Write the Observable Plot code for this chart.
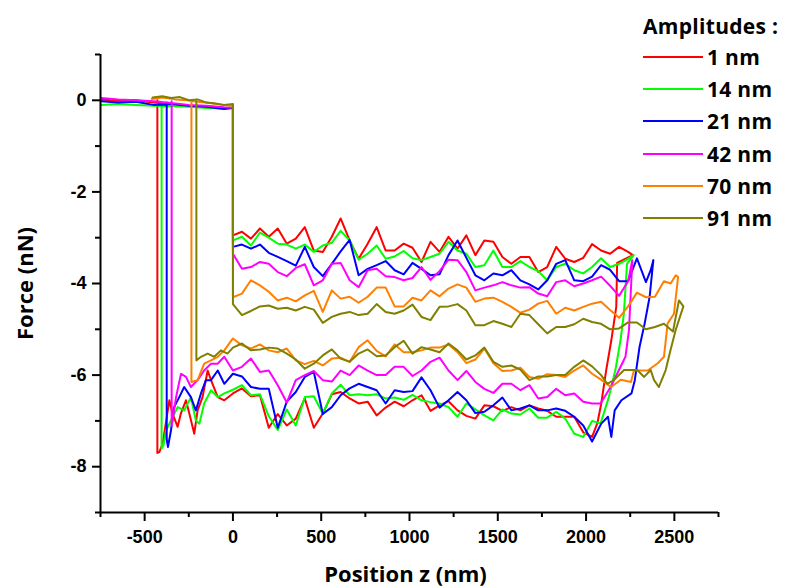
<!DOCTYPE html>
<html><head><meta charset="utf-8">
<script src="https://cdn.jsdelivr.net/npm/d3@7"></script>
<script src="https://cdn.jsdelivr.net/npm/@observablehq/plot@0.6"></script>
<style>
body{margin:0;background:#fff;}
#wrap{position:relative;width:792px;height:588px;overflow:hidden;}
#legend{position:absolute;left:643px;top:12px;font-family:"Open Sans",sans-serif;font-weight:700;color:#000;}
#legend .title{font-size:21px;line-height:28px;white-space:nowrap;margin-bottom:1px;letter-spacing:0.3px;}
#legend .row{display:flex;align-items:center;height:32.2px;font-size:21px;white-space:nowrap;letter-spacing:0.3px;}
#legend svg{margin-right:4px;}
</style></head><body><div id="wrap"></div>
<script>
// ---- data (Position z in nm, Force in nN) ----
const amplitudes = ["1 nm","14 nm","21 nm","42 nm","70 nm","91 nm"];
const colors = ["#ff0000","#00ff00","#0000ff","#ff00ff","#ff8000","#808000"];
const xTicks = [-500,0,500,1000,1500,2000,2500];
const xMinor = [-750,-250,250,750,1250,1750,2250,2750];
const yTicks = [0,-2,-4,-6,-8];
const yMinor = [1,-1,-3,-5,-7,-9];

// sampling positions of the two noisy bands (nm)
const zGrid = [0,51,102,153,203,254,305,356,407,458,509,560,610,661,712,763,814,865,916,967,1017,1068,1119,1170,1221,1272,1322,1373,1424,1475,1526,1577,1628,1679,1729,1780,1831,1882,1933,1984,2034,2085,2136,2187,2238,2288,2339,2390,2441,2492];

// 1 nm
const redTop = [[-745,0.02],[-650,-0.01],[-550,0.0],[-450,-0.05],[-350,-0.08],[-250,-0.12],[-150,-0.13],[-50,-0.17],[0,-0.17]];
const redUpper = [-2.95,-2.87,-3.02,-2.80,-2.98,-2.80,-3.13,-3.02,-2.77,-3.28,-3.31,-2.98,-2.58,-3.06,-3.46,-3.13,-2.77,-3.28,-3.28,-3.13,-3.22,-3.53,-3.09,-3.31,-2.98,-3.24,-2.95,-3.38,-3.06,-3.09,-3.42,-3.57,-3.42,-3.42,-3.75,-3.64,-3.20,-3.46,-3.53,-3.44,-3.14,-3.28,-3.35,-3.20,-3.31];
const redEnd = [[2265,-3.38],[2176,-3.55],[2171,-4.51],[2143,-5.24],[2114,-5.89],[2086,-6.62],[2064,-7.05]];
const redLower = [-6.40,-6.29,-6.46,-6.44,-7.15,-6.85,-7.10,-6.95,-6.51,-7.15,-6.84,-6.42,-6.37,-6.51,-6.62,-6.58,-6.88,-6.71,-6.58,-6.68,-6.55,-6.44,-6.78,-6.66,-6.57,-6.77,-6.89,-6.95,-6.66,-6.68,-6.78,-6.70,-6.77,-6.66,-6.73,-6.78,-6.91,-6.91,-6.91,-7.25,-7.35];
const redLeft = [[-49,-6.55],[-86,-6.48],[-124,-6.11],[-143,-5.90],[-172,-6.48],[-200,-6.77],[-219,-7.28],[-247,-6.84],[-266,-6.55],[-295,-6.84],[-313,-7.13],[-342,-6.84],[-360,-6.55],[-398,-7.50],[-417,-7.68],[-428,-7.70],[-428,0.0]];

// 14 nm
const greenTop = [[-745,-0.10],[-650,-0.08],[-550,-0.10],[-450,-0.12],[-350,-0.13],[-250,-0.14],[-150,-0.17],[-50,-0.18],[0,-0.15]];
const greenUpper = [-3.06,-2.98,-3.17,-2.89,-3.00,-3.13,-3.15,-3.24,-3.15,-3.31,-3.17,-3.11,-2.85,-3.06,-3.48,-3.35,-3.17,-3.46,-3.41,-3.29,-3.45,-3.49,-3.42,-3.35,-3.09,-3.28,-3.35,-3.64,-3.60,-3.28,-3.64,-3.64,-3.51,-3.64,-3.73,-3.93,-3.64,-3.57,-3.71,-3.78,-3.64,-3.45,-3.64,-3.57,-3.46];
const greenEnd = [[2270,-3.38],[2232,-3.57],[2214,-4.66],[2195,-5.24],[2166,-5.89],[2129,-6.48],[2082,-7.06]];
const greenLower = [-6.32,-6.22,-6.44,-6.42,-6.90,-7.20,-6.75,-7.10,-6.48,-6.46,-6.84,-6.40,-6.21,-6.44,-6.42,-6.44,-6.42,-6.51,-6.49,-6.54,-6.43,-6.55,-6.59,-6.62,-6.70,-6.91,-6.62,-6.75,-6.88,-6.99,-6.75,-6.84,-6.86,-6.73,-6.93,-6.93,-6.80,-6.95,-7.28,-7.35,-7.00];
const greenLeft = [[-49,-6.40],[-86,-6.48],[-124,-6.33],[-163,-6.62],[-190,-7.06],[-210,-6.99],[-238,-6.48],[-276,-6.77],[-313,-6.70],[-351,-6.99],[-379,-7.21],[-393,-7.53],[-404,-7.60],[-404,-0.10]];

// 21 nm
const blueTop = [[-745,-0.02],[-650,-0.05],[-550,-0.03],[-450,-0.10],[-350,-0.08],[-250,-0.12],[-150,-0.14],[-50,-0.19],[0,-0.17]];
const blueUpper = [-3.20,-3.15,-3.24,-3.15,-3.33,-3.42,-3.51,-3.61,-3.20,-3.64,-3.84,-3.57,-3.30,-3.05,-3.82,-3.68,-3.60,-3.51,-3.71,-3.80,-3.55,-3.68,-3.82,-3.80,-3.38,-3.06,-3.44,-3.82,-3.93,-3.78,-3.82,-3.71,-3.93,-4.02,-4.13,-3.93,-3.57,-3.49,-3.93,-3.95,-3.85,-3.60,-3.70,-3.95,-3.95,-3.45,-3.97];
const blueEnd = [[2366,-3.71],[2381,-3.49],[2360,-4.29],[2332,-4.87],[2303,-5.38],[2276,-6.11],[2257,-6.40],[2200,-6.55],[2162,-6.77],[2143,-7.35],[2124,-6.91],[2086,-7.06]];
const blueLower = [-5.97,-6.03,-6.26,-6.30,-6.30,-7.15,-6.58,-6.37,-6.04,-5.93,-6.85,-6.70,-6.44,-6.29,-6.19,-6.26,-6.33,-6.62,-6.33,-6.37,-6.35,-6.05,-6.33,-6.71,-6.55,-6.37,-6.55,-6.83,-6.80,-6.66,-6.49,-6.77,-6.73,-6.66,-6.77,-6.77,-6.73,-6.78,-6.91,-7.10,-7.45];
const blueLeft = [[-49,-6.19],[-86,-5.90],[-124,-6.11],[-153,-6.11],[-181,-6.40],[-210,-6.77],[-238,-6.48],[-276,-6.26],[-304,-6.48],[-333,-6.70],[-351,-7.21],[-368,-7.57],[-375,-7.40],[-375,-0.05]];

// 42 nm
const magentaTop = [[-745,0.05],[-650,0.02],[-550,0.0],[-450,-0.02],[-350,-0.06],[-250,-0.10],[-150,-0.12],[-50,-0.15],[0,-0.16]];
const magentaUpper = [-3.35,-3.68,-3.64,-3.53,-3.57,-3.75,-3.84,-3.66,-3.58,-4.04,-3.93,-3.57,-3.55,-3.93,-4.08,-3.71,-3.68,-3.84,-3.86,-3.93,-3.88,-3.64,-3.92,-3.73,-3.48,-3.49,-3.75,-4.15,-4.09,-4.04,-3.97,-4.04,-4.09,-4.08,-4.22,-4.28,-3.97,-3.93,-4.06,-4.00,-3.93,-3.85,-4.05,-4.27,-3.95];
const magentaEnd = [[2262,-3.49],[2252,-4.29],[2243,-5.02],[2223,-5.60],[2176,-5.97],[2139,-6.26],[2082,-6.62]];
const magentaLower = [-5.90,-5.82,-5.64,-5.93,-5.90,-6.22,-6.60,-6.11,-6.00,-5.91,-6.11,-6.14,-5.90,-6.00,-5.79,-5.90,-6.00,-6.00,-5.82,-5.82,-6.02,-5.90,-5.71,-5.62,-5.90,-6.11,-5.91,-6.15,-6.30,-6.39,-6.19,-6.19,-6.33,-6.22,-6.51,-6.48,-6.30,-6.44,-6.40,-6.58,-6.62];
const magentaLeft = [[-49,-5.60],[-86,-5.75],[-124,-5.75],[-163,-5.90],[-200,-6.11],[-238,-6.26],[-266,-6.04],[-294,-5.97],[-322,-6.48],[-342,-6.99],[-347,-7.10],[-347,-0.02]];

// 70 nm
const orangeTop = [[-460,0.03],[-400,0.06],[-330,0.02],[-260,0.0],[-200,-0.03],[-130,-0.06],[-60,-0.10],[0,-0.12]];
const orangeUpper = [-4.30,-4.22,-3.93,-4.04,-4.18,-4.37,-4.31,-4.39,-4.26,-4.16,-4.62,-4.15,-4.33,-4.29,-4.42,-4.29,-4.09,-4.09,-4.50,-4.50,-4.31,-4.37,-4.15,-4.28,-4.11,-4.02,-4.09,-4.40,-4.33,-4.31,-4.40,-4.51,-4.64,-4.57,-4.44,-4.38,-4.66,-4.53,-4.59,-4.51,-4.44,-4.40,-4.58,-4.75,-4.50,-4.20,-4.30,-4.29,-3.95];
const orangeEnd = [[2479,-4.00],[2508,-3.82],[2521,-3.86],[2498,-4.66],[2462,-4.87],[2441,-5.60],[2406,-5.74],[2349,-5.90],[2271,-5.90],[2254,-6.15],[2197,-6.10],[2141,-6.26]];
const orangeLower = [-5.20,-5.35,-5.42,-5.33,-5.46,-5.50,-5.42,-5.68,-5.76,-5.69,-5.79,-5.64,-5.62,-5.71,-5.39,-5.24,-5.47,-5.59,-5.33,-5.50,-5.50,-5.46,-5.40,-5.40,-5.33,-5.50,-5.74,-5.66,-5.42,-5.74,-5.91,-5.90,-5.84,-6.04,-6.08,-5.98,-6.00,-6.04,-5.90,-5.79,-5.97,-6.10];
const orangeLeft = [[-49,-5.46],[-86,-5.60],[-124,-5.68],[-163,-5.75],[-200,-6.11],[-235,-6.15],[-235,0.0]];

// 91 nm
const oliveTop = [[-455,0.06],[-400,0.09],[-350,0.05],[-300,0.07],[-250,0.0],[-200,0.02],[-150,-0.05],[-100,-0.07],[-50,-0.10],[0,-0.08]];
const oliveUpper = [-4.45,-4.69,-4.60,-4.50,-4.48,-4.55,-4.53,-4.59,-4.51,-4.57,-4.86,-4.73,-4.66,-4.62,-4.69,-4.66,-4.45,-4.62,-4.66,-4.59,-4.46,-4.73,-4.80,-4.51,-4.50,-4.45,-4.59,-4.91,-4.91,-4.82,-4.88,-4.95,-4.66,-4.69,-4.89,-5.09,-4.95,-4.95,-4.89,-4.77,-4.84,-4.88,-5.00,-4.98,-4.85,-4.85,-5.00,-4.95,-4.88,-5.05];
const oliveEnd = [[2526,-4.37],[2551,-4.50],[2507,-5.02],[2478,-5.46],[2451,-5.89],[2412,-6.26],[2385,-6.11],[2366,-5.89],[2329,-6.04],[2290,-5.89],[2254,-5.89],[2215,-5.89],[2158,-6.11],[2120,-6.19]];
const oliveLower = [-5.40,-5.31,-5.46,-5.44,-5.40,-5.42,-5.53,-5.66,-5.86,-5.75,-5.57,-5.44,-5.64,-5.71,-5.53,-5.44,-5.59,-5.57,-5.39,-5.25,-5.53,-5.39,-5.44,-5.50,-5.31,-5.46,-5.66,-5.57,-5.40,-5.71,-5.82,-5.79,-5.88,-6.11,-6.03,-6.03,-6.00,-6.00,-5.82,-5.68,-5.81,-6.00];
const oliveLeft = [[-31,-5.53],[-68,-5.46],[-106,-5.60],[-143,-5.53],[-181,-5.60],[-207,-5.68],[-207,0.02]];

// ---- assemble each curve in drawing order ----
const parts = [
  [redTop, redUpper, redEnd, redLower, redLeft],
  [greenTop, greenUpper, greenEnd, greenLower, greenLeft],
  [blueTop, blueUpper, blueEnd, blueLower, blueLeft],
  [magentaTop, magentaUpper, magentaEnd, magentaLower, magentaLeft],
  [orangeTop, orangeUpper, orangeEnd, orangeLower, orangeLeft],
  [oliveTop, oliveUpper, oliveEnd, oliveLower, oliveLeft]
];
const rows = [];
parts.forEach(([top, upper, end, lower, left], k) => {
  const s = amplitudes[k];
  const pts = [
    ...top,
    ...upper.map((f, i) => [zGrid[i], f]),
    ...end,
    ...lower.map((f, i) => [zGrid[i], f]).reverse(),
    ...left
  ];
  pts.forEach(([z, f]) => rows.push({series: s, z, f}));
});

const tickFont = {fontSize: 18, fontFamily: "'Liberation Sans', Arial, sans-serif", fontWeight: "bold"};
const titleFont = {fontSize: 22, fontWeight: "bold", fontFamily: "'Open Sans', sans-serif", fill: "#000"};

const chart = Plot.plot({
  width: 792,
  height: 588,
  marginLeft: 100,
  marginRight: 74,
  marginTop: 54,
  marginBottom: 76,
  style: {background: "#fff", color: "#000", fontFamily: "'Liberation Sans', Arial, sans-serif"},
  x: {domain: [-750, 2750], axis: null},
  y: {domain: [-9, 1], axis: null},
  color: {domain: amplitudes, range: colors},
  marks: [
    Plot.line(rows, {x: "z", y: "f", z: "series", stroke: "series", strokeWidth: 2, strokeLinejoin: "round"}),
    Plot.axisX({ticks: xMinor, tickSize: 5, text: null, label: null, strokeWidth: 2}),
    Plot.axisX({ticks: xTicks, tickSize: 9, tickPadding: 9, strokeWidth: 2, tickFormat: d => String(d), label: null, ...tickFont}),
    Plot.axisY({ticks: yMinor, tickSize: 5, text: null, label: null, strokeWidth: 2}),
    Plot.axisY({ticks: yTicks, tickSize: 8, tickPadding: 6, strokeWidth: 2, tickFormat: d => String(d), label: null, ...tickFont}),
    Plot.ruleY([-9], {stroke: "#000", strokeWidth: 2}),
    Plot.ruleX([-750], {stroke: "#000", strokeWidth: 2}),
    Plot.text(["Position z (nm)"], {frameAnchor: "bottom", textAnchor: "middle", dx: -4, dy: 69, ...titleFont}),
    Plot.text(["Force (nN)"], {frameAnchor: "left", textAnchor: "middle", lineAnchor: "middle", dx: -75, rotate: -90, ...titleFont})
  ]
});
const wrap = document.getElementById("wrap");
wrap.appendChild(chart);

// legend (HTML overlay, top right)
const leg = document.createElement("div");
leg.id = "legend";
leg.innerHTML = `<div class="title">Amplitudes :</div>` + amplitudes.map((a, i) =>
  `<div class="row"><svg width="60" height="4"><line x1="0" x2="60" y1="2" y2="2" stroke="${colors[i]}" stroke-width="2"/></svg>${a}</div>`).join("");
wrap.appendChild(leg);
</script>
</body></html>
